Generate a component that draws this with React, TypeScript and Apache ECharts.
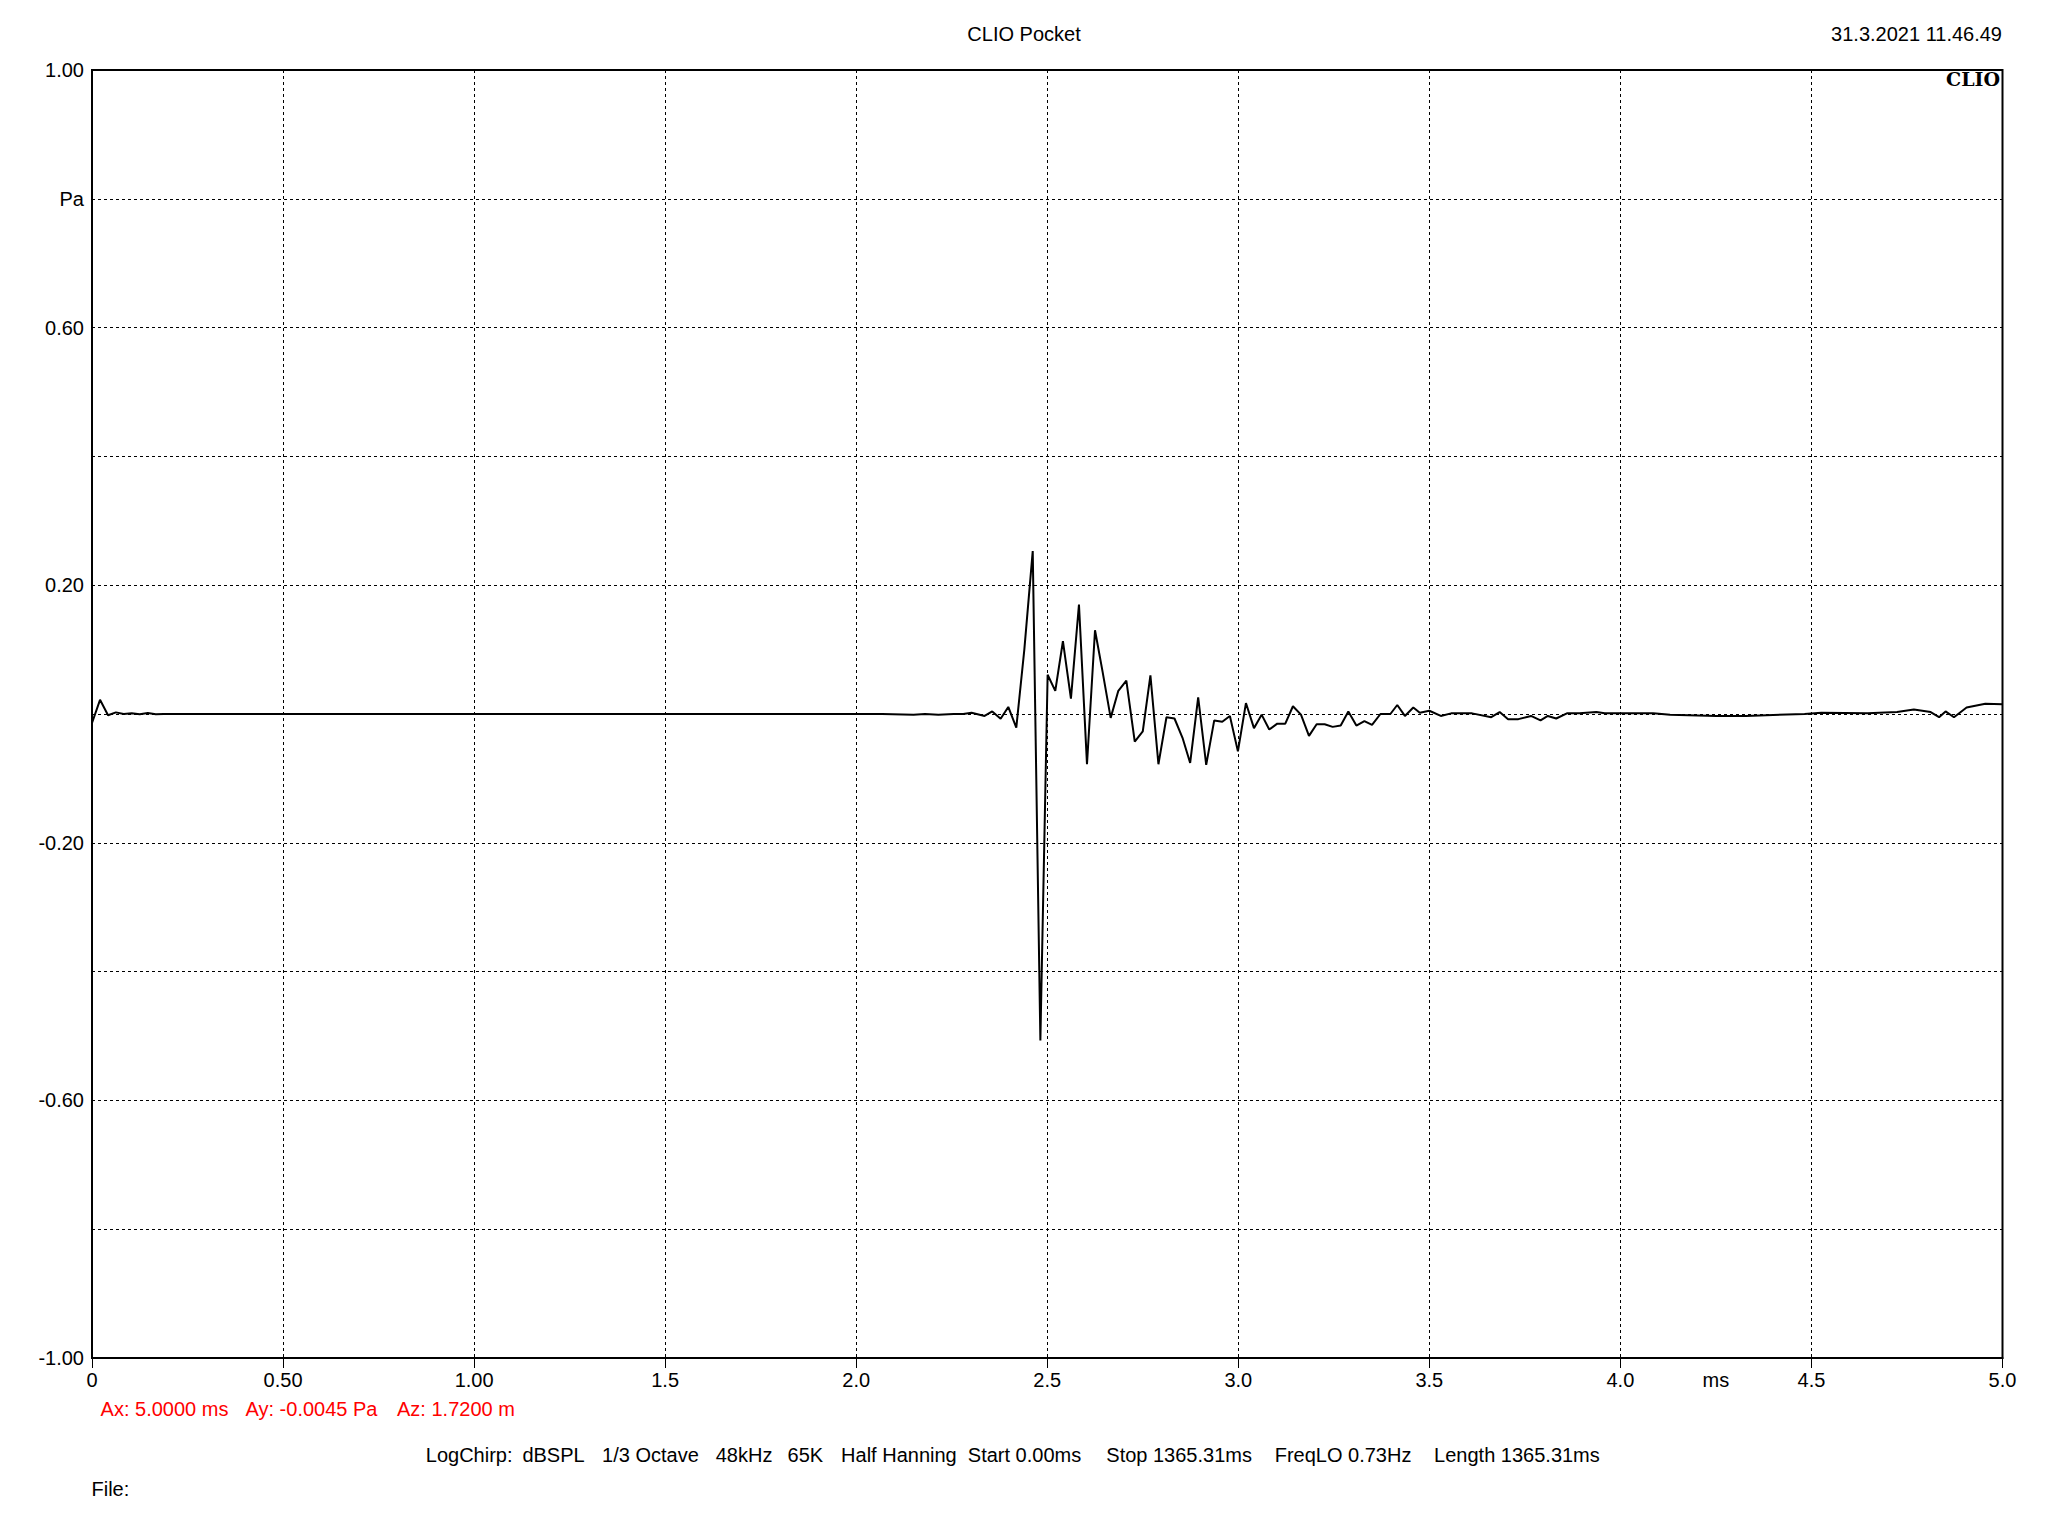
import React, { useEffect, useRef } from "react";
import * as echarts from "echarts";

// Impulse response samples (time in ms, pressure in Pa)
const timeMs = [
  0, 0.021, 0.042, 0.0625, 0.083, 0.104, 0.125, 0.146, 0.167, 0.1875,
  2.068, 2.15, 2.18, 2.215, 2.255, 2.28, 2.302, 2.336, 2.356, 2.378,
  2.398, 2.419, 2.44, 2.462, 2.482, 2.501, 2.521, 2.541, 2.562, 2.583,
  2.604, 2.625, 2.645, 2.666, 2.686, 2.707, 2.729, 2.75, 2.77, 2.791,
  2.812, 2.833, 2.854, 2.874, 2.895, 2.916, 2.937, 2.958, 2.978, 2.999,
  3.02, 3.041, 3.061, 3.081, 3.102, 3.123, 3.143, 3.164, 3.185, 3.205,
  3.226, 3.247, 3.268, 3.288, 3.309, 3.33, 3.35, 3.372, 3.398, 3.416,
  3.436, 3.458, 3.475, 3.5, 3.53, 3.557, 3.612, 3.662, 3.684, 3.706,
  3.733, 3.766, 3.791, 3.81, 3.832, 3.86, 3.893, 3.937, 3.959, 4.086,
  4.13, 4.251, 4.328, 4.482, 4.526, 4.647, 4.724, 4.768, 4.812, 4.834,
  4.851, 4.873, 4.906, 4.955, 5.0,
];
const pressure = [
  -0.014, 0.022, -0.002, 0.0025, 0.0, 0.001, -0.0005, 0.0015, -0.0005, 0.0,
  0.0, -0.001, 0.0, -0.001, 0.0, 0.0, 0.002, -0.003, 0.004, -0.0075,
  0.011, -0.021, 0.1, 0.253, -0.507, 0.061, 0.036, 0.113, 0.024, 0.17,
  -0.078, 0.13, 0.065, -0.006, 0.036, 0.052, -0.043, -0.027, 0.06, -0.078,
  -0.005, -0.007, -0.037, -0.076, 0.026, -0.079, -0.01, -0.012, -0.003, -0.058,
  0.017, -0.022, -0.001, -0.024, -0.015, -0.015, 0.012, -0.001, -0.034, -0.016,
  -0.016, -0.02, -0.018, 0.004, -0.018, -0.011, -0.017, 0.0, 0.0, 0.014,
  -0.003, 0.01, 0.002, 0.005, -0.003, 0.001, 0.001, -0.005, 0.003, -0.008,
  -0.008, -0.003, -0.01, -0.003, -0.007, 0.001, 0.001, 0.003, 0.001, 0.001,
  -0.001, -0.003, -0.003, 0.0, 0.002, 0.001, 0.003, 0.007, 0.003, -0.005,
  0.004, -0.005, 0.01, 0.016, 0.015,
];

const xTickValues = [0, 0.5, 1, 1.5, 2, 2.5, 3, 3.5, 4, 4.5, 5];
const xTickTexts = ["0", "0.50", "1.00", "1.5", "2.0", "2.5", "3.0", "3.5", "4.0", "4.5", "5.0"];
const yTickValues = [-1, -0.8, -0.6, -0.4, -0.2, 0, 0.2, 0.4, 0.6, 0.8, 1];
const yTickTexts = ["-1.00", "", "-0.60", "", "-0.20", "", "0.20", "", "0.60", "Pa", "1.00"];
const xUnitValue = 4.25;
const xUnitText = "ms";

const titleText = "CLIO Pocket";
const dateText = "31.3.2021 11.46.49";
const logoText = "CLIO";
const cursorTexts = ["Ax: 5.0000 ms", "Ay: -0.0045 Pa", "Az: 1.7200 m"];
const settingsTexts = [
  "LogChirp:", "dBSPL", "1/3 Octave", "48kHz", "65K", "Half Hanning",
  "Start 0.00ms", "Stop 1365.31ms", "FreqLO 0.73Hz", "Length 1365.31ms",
];
const fileText = "File:";

const FONT = "'Liberation Sans', Arial, sans-serif";

function lookup(values: number[], texts: string[], v: number) {
  for (let i = 0; i < values.length; i++) {
    if (Math.abs(values[i] - v) < 1e-6) return texts[i];
  }
  return "";
}

function txt(text: string, x: number, y: number, opts: any = {}) {
  const align = opts.align || "left";
  return {
    type: "text",
    x,
    y,
    silent: true,
    style: {
      text,
      fill: opts.fill || "#000",
      font: opts.font || `20px ${FONT}`,
      textAlign: align,
      textVerticalAlign: "middle",
      align,
      verticalAlign: "middle",
    },
  };
}

export default function App() {
  const ref = useRef<HTMLDivElement>(null);

  useEffect(() => {
    document.body.style.margin = "0";
    document.body.style.overflow = "hidden";
    const chart = echarts.init(ref.current!, undefined, { renderer: "svg" });

    const cursorX = [100.6, 245.5, 397];
    const settingsX = [425.8, 522.4, 602.1, 715.7, 787.6, 841.1, 967.8, 1106.3, 1274.7, 1434.1];

    const graphics: any[] = [
      txt(titleText, 1024, 34, { align: "center" }),
      txt(dateText, 2002, 34, { align: "right" }),
      txt(logoText, 2000, 79, { align: "right", font: `bold 19px 'DejaVu Serif', 'Liberation Serif', serif` }),
      ...cursorTexts.map((t, i) => txt(t, cursorX[i], 1409, { fill: "#ff0000" })),
      ...settingsTexts.map((t, i) => txt(t, settingsX[i], 1455)),
      txt(fileText, 91.5, 1489),
    ];

    chart.setOption({
      animation: false,
      backgroundColor: "#ffffff",
      grid: {
        left: 92,
        top: 70,
        right: 45.5,
        bottom: 178,
        show: true,
        borderColor: "#000",
        borderWidth: 2,
        backgroundColor: "transparent",
      },
      xAxis: [
        {
          type: "value",
          min: 0,
          max: 5,
          interval: 0.5,
          position: "bottom",
          axisLine: { show: true, onZero: false, lineStyle: { color: "#000", width: 2 } },
          axisTick: { show: true, length: 10, lineStyle: { color: "#000", width: 1 } },
          axisLabel: {
            margin: 12,
            color: "#000",
            fontSize: 20,
            fontFamily: FONT,
            formatter: (v: number) => lookup(xTickValues, xTickTexts, v),
          },
          splitLine: { show: true, lineStyle: { color: "#000", width: 1, type: [3, 3] } },
        },
        {
          type: "value",
          min: 0,
          max: 5,
          interval: 0.25,
          position: "bottom",
          axisLine: { show: false },
          axisTick: { show: false },
          splitLine: { show: false },
          axisLabel: {
            margin: 12,
            color: "#000",
            fontSize: 20,
            fontFamily: FONT,
            formatter: (v: number) => (Math.abs(v - xUnitValue) < 1e-6 ? xUnitText : ""),
          },
        },
      ],
      yAxis: {
        type: "value",
        min: -1,
        max: 1,
        interval: 0.2,
        axisLine: { show: true, onZero: false, lineStyle: { color: "#000", width: 2 } },
        axisTick: { show: false },
        axisLabel: {
          margin: 8,
          color: "#000",
          fontSize: 20,
          fontFamily: FONT,
          formatter: (v: number) => lookup(yTickValues, yTickTexts, v),
        },
        splitLine: { show: true, lineStyle: { color: "#000", width: 1, type: [3, 3] } },
      },
      series: [
        {
          type: "line",
          xAxisIndex: 0,
          data: timeMs.map((t, i) => [t, pressure[i]]),
          showSymbol: false,
          symbol: "none",
          smooth: false,
          lineStyle: { color: "#000", width: 2 },
          z: 5,
        },
      ],
      graphic: graphics,
    });

    return () => chart.dispose();
  }, []);

  return <div ref={ref} style={{ width: 2048, height: 1536 }} />;
}
